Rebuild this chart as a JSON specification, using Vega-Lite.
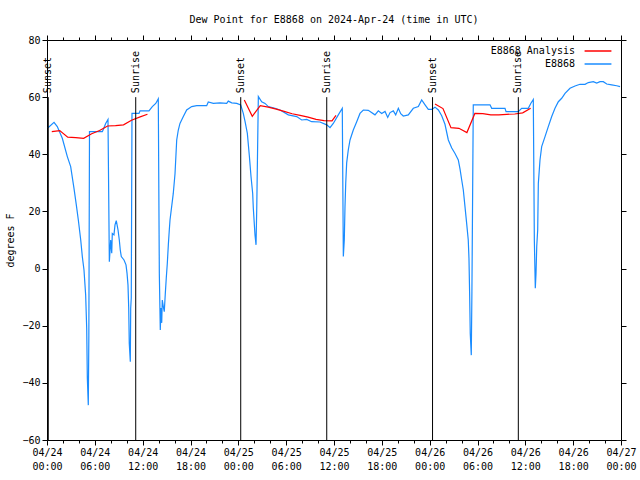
{
  "$schema": "https://vega.github.io/schema/vega-lite/v6.json",
  "width": 574,
  "height": 400,
  "autosize": {"type": "none"},
  "padding": {"left": 47, "top": 40, "right": 19, "bottom": 40},
  "background": "white",
  "title": {"text": "Dew Point for E8868 on 2024-Apr-24 (time in UTC)", "anchor": "middle", "frame": "group", "font": "DejaVu Sans Mono", "fontSize": 10, "fontWeight": "normal", "offset": 10, "color": "black"},
  "config": {
    "view": {"stroke": "black", "strokeWidth": 1},
    "font": "DejaVu Sans Mono",
    "axis": {"domain": false, "grid": false, "labelFont": "DejaVu Sans Mono", "labelFontSize": 10, "labelColor": "black", "titleFont": "DejaVu Sans Mono", "titleFontSize": 10, "titleFontWeight": "normal", "titleColor": "black", "tickColor": "black"}
  },
  "datasets": {
    "obs": [
      {"hour": 0.13, "dewpoint": 49.3, "series": "E8868"},
      {"hour": 0.88, "dewpoint": 51.2, "series": "E8868"},
      {"hour": 1.29, "dewpoint": 49.7, "series": "E8868"},
      {"hour": 1.92, "dewpoint": 45.6, "series": "E8868"},
      {"hour": 2.55, "dewpoint": 39.2, "series": "E8868"},
      {"hour": 2.97, "dewpoint": 35.7, "series": "E8868"},
      {"hour": 3.39, "dewpoint": 28.0, "series": "E8868"},
      {"hour": 3.68, "dewpoint": 22.2, "series": "E8868"},
      {"hour": 3.93, "dewpoint": 17.0, "series": "E8868"},
      {"hour": 4.23, "dewpoint": 10.0, "series": "E8868"},
      {"hour": 4.43, "dewpoint": 4.2, "series": "E8868"},
      {"hour": 4.64, "dewpoint": -0.5, "series": "E8868"},
      {"hour": 4.85, "dewpoint": -9.3, "series": "E8868"},
      {"hour": 4.98, "dewpoint": -20.9, "series": "E8868"},
      {"hour": 5.06, "dewpoint": -38.4, "series": "E8868"},
      {"hour": 5.18, "dewpoint": -47.8, "series": "E8868"},
      {"hour": 5.25, "dewpoint": -23.3, "series": "E8868"},
      {"hour": 5.33, "dewpoint": 47.9, "series": "E8868"},
      {"hour": 6.15, "dewpoint": 47.9, "series": "E8868"},
      {"hour": 6.94, "dewpoint": 47.9, "series": "E8868"},
      {"hour": 7.06, "dewpoint": 48.7, "series": "E8868"},
      {"hour": 7.36, "dewpoint": 50.8, "series": "E8868"},
      {"hour": 7.65, "dewpoint": 52.2, "series": "E8868"},
      {"hour": 7.82, "dewpoint": 2.4, "series": "E8868"},
      {"hour": 7.99, "dewpoint": 10.0, "series": "E8868"},
      {"hour": 8.12, "dewpoint": 5.4, "series": "E8868"},
      {"hour": 8.19, "dewpoint": 12.3, "series": "E8868"},
      {"hour": 8.4, "dewpoint": 11.8, "series": "E8868"},
      {"hour": 8.53, "dewpoint": 15.3, "series": "E8868"},
      {"hour": 8.69, "dewpoint": 16.8, "series": "E8868"},
      {"hour": 8.91, "dewpoint": 13.5, "series": "E8868"},
      {"hour": 9.07, "dewpoint": 10.0, "series": "E8868"},
      {"hour": 9.19, "dewpoint": 6.5, "series": "E8868"},
      {"hour": 9.32, "dewpoint": 4.2, "series": "E8868"},
      {"hour": 9.66, "dewpoint": 3.0, "series": "E8868"},
      {"hour": 9.91, "dewpoint": 1.3, "series": "E8868"},
      {"hour": 10.04, "dewpoint": -1.7, "series": "E8868"},
      {"hour": 10.16, "dewpoint": -5.8, "series": "E8868"},
      {"hour": 10.25, "dewpoint": -13.9, "series": "E8868"},
      {"hour": 10.32, "dewpoint": -26.2, "series": "E8868"},
      {"hour": 10.45, "dewpoint": -32.6, "series": "E8868"},
      {"hour": 10.5, "dewpoint": -13.9, "series": "E8868"},
      {"hour": 10.57, "dewpoint": -10.3, "series": "E8868"},
      {"hour": 10.66, "dewpoint": 54.3, "series": "E8868"},
      {"hour": 11.54, "dewpoint": 54.3, "series": "E8868"},
      {"hour": 11.67, "dewpoint": 55.2, "series": "E8868"},
      {"hour": 12.79, "dewpoint": 55.2, "series": "E8868"},
      {"hour": 13.21, "dewpoint": 56.7, "series": "E8868"},
      {"hour": 13.64, "dewpoint": 57.8, "series": "E8868"},
      {"hour": 13.96, "dewpoint": 59.4, "series": "E8868"},
      {"hour": 14.09, "dewpoint": -1.7, "series": "E8868"},
      {"hour": 14.21, "dewpoint": -21.5, "series": "E8868"},
      {"hour": 14.3, "dewpoint": -13.8, "series": "E8868"},
      {"hour": 14.39, "dewpoint": -19.0, "series": "E8868"},
      {"hour": 14.46, "dewpoint": -11.0, "series": "E8868"},
      {"hour": 14.59, "dewpoint": -13.3, "series": "E8868"},
      {"hour": 14.71, "dewpoint": -15.1, "series": "E8868"},
      {"hour": 14.84, "dewpoint": -8.7, "series": "E8868"},
      {"hour": 14.96, "dewpoint": -3.4, "series": "E8868"},
      {"hour": 15.09, "dewpoint": 1.8, "series": "E8868"},
      {"hour": 15.22, "dewpoint": 8.3, "series": "E8868"},
      {"hour": 15.34, "dewpoint": 13.5, "series": "E8868"},
      {"hour": 15.43, "dewpoint": 17.0, "series": "E8868"},
      {"hour": 15.84, "dewpoint": 26.3, "series": "E8868"},
      {"hour": 16.06, "dewpoint": 33.3, "series": "E8868"},
      {"hour": 16.27, "dewpoint": 45.0, "series": "E8868"},
      {"hour": 16.47, "dewpoint": 48.5, "series": "E8868"},
      {"hour": 16.68, "dewpoint": 50.8, "series": "E8868"},
      {"hour": 17.1, "dewpoint": 53.2, "series": "E8868"},
      {"hour": 17.52, "dewpoint": 55.5, "series": "E8868"},
      {"hour": 18.15, "dewpoint": 56.7, "series": "E8868"},
      {"hour": 18.78, "dewpoint": 57.0, "series": "E8868"},
      {"hour": 20.03, "dewpoint": 57.0, "series": "E8868"},
      {"hour": 20.23, "dewpoint": 58.3, "series": "E8868"},
      {"hour": 20.86, "dewpoint": 57.8, "series": "E8868"},
      {"hour": 21.7, "dewpoint": 58.0, "series": "E8868"},
      {"hour": 22.54, "dewpoint": 57.8, "series": "E8868"},
      {"hour": 22.74, "dewpoint": 58.6, "series": "E8868"},
      {"hour": 23.17, "dewpoint": 58.0, "series": "E8868"},
      {"hour": 23.8, "dewpoint": 57.8, "series": "E8868"},
      {"hour": 24.3, "dewpoint": 57.3, "series": "E8868"},
      {"hour": 24.62, "dewpoint": 54.3, "series": "E8868"},
      {"hour": 24.84, "dewpoint": 51.5, "series": "E8868"},
      {"hour": 25.13, "dewpoint": 47.3, "series": "E8868"},
      {"hour": 25.38, "dewpoint": 39.5, "series": "E8868"},
      {"hour": 25.59, "dewpoint": 32.2, "series": "E8868"},
      {"hour": 25.8, "dewpoint": 26.3, "series": "E8868"},
      {"hour": 25.88, "dewpoint": 21.1, "series": "E8868"},
      {"hour": 26.09, "dewpoint": 11.8, "series": "E8868"},
      {"hour": 26.22, "dewpoint": 8.3, "series": "E8868"},
      {"hour": 26.31, "dewpoint": 21.1, "series": "E8868"},
      {"hour": 26.51, "dewpoint": 60.2, "series": "E8868"},
      {"hour": 26.93, "dewpoint": 58.4, "series": "E8868"},
      {"hour": 27.35, "dewpoint": 57.8, "series": "E8868"},
      {"hour": 27.76, "dewpoint": 56.7, "series": "E8868"},
      {"hour": 28.6, "dewpoint": 56.1, "series": "E8868"},
      {"hour": 29.23, "dewpoint": 55.5, "series": "E8868"},
      {"hour": 30.27, "dewpoint": 53.8, "series": "E8868"},
      {"hour": 31.32, "dewpoint": 53.2, "series": "E8868"},
      {"hour": 31.95, "dewpoint": 52.0, "series": "E8868"},
      {"hour": 32.58, "dewpoint": 52.2, "series": "E8868"},
      {"hour": 33.2, "dewpoint": 51.4, "series": "E8868"},
      {"hour": 34.24, "dewpoint": 51.3, "series": "E8868"},
      {"hour": 35.09, "dewpoint": 50.3, "series": "E8868"},
      {"hour": 35.5, "dewpoint": 49.3, "series": "E8868"},
      {"hour": 35.91, "dewpoint": 50.8, "series": "E8868"},
      {"hour": 36.54, "dewpoint": 53.8, "series": "E8868"},
      {"hour": 37.04, "dewpoint": 56.1, "series": "E8868"},
      {"hour": 37.17, "dewpoint": 4.2, "series": "E8868"},
      {"hour": 37.29, "dewpoint": 10.0, "series": "E8868"},
      {"hour": 37.38, "dewpoint": 21.7, "series": "E8868"},
      {"hour": 37.47, "dewpoint": 29.8, "series": "E8868"},
      {"hour": 37.59, "dewpoint": 37.0, "series": "E8868"},
      {"hour": 37.79, "dewpoint": 41.5, "series": "E8868"},
      {"hour": 38.01, "dewpoint": 45.0, "series": "E8868"},
      {"hour": 38.42, "dewpoint": 48.5, "series": "E8868"},
      {"hour": 38.85, "dewpoint": 51.4, "series": "E8868"},
      {"hour": 39.26, "dewpoint": 54.3, "series": "E8868"},
      {"hour": 39.68, "dewpoint": 55.5, "series": "E8868"},
      {"hour": 40.3, "dewpoint": 55.4, "series": "E8868"},
      {"hour": 41.14, "dewpoint": 53.8, "series": "E8868"},
      {"hour": 41.56, "dewpoint": 55.2, "series": "E8868"},
      {"hour": 41.98, "dewpoint": 54.3, "series": "E8868"},
      {"hour": 42.4, "dewpoint": 55.0, "series": "E8868"},
      {"hour": 42.74, "dewpoint": 52.9, "series": "E8868"},
      {"hour": 43.03, "dewpoint": 54.6, "series": "E8868"},
      {"hour": 43.44, "dewpoint": 55.2, "series": "E8868"},
      {"hour": 43.74, "dewpoint": 53.8, "series": "E8868"},
      {"hour": 44.07, "dewpoint": 56.1, "series": "E8868"},
      {"hour": 44.37, "dewpoint": 54.2, "series": "E8868"},
      {"hour": 44.69, "dewpoint": 53.4, "series": "E8868"},
      {"hour": 45.32, "dewpoint": 53.8, "series": "E8868"},
      {"hour": 45.95, "dewpoint": 56.1, "series": "E8868"},
      {"hour": 46.58, "dewpoint": 56.7, "series": "E8868"},
      {"hour": 47.0, "dewpoint": 59.0, "series": "E8868"},
      {"hour": 47.42, "dewpoint": 57.3, "series": "E8868"},
      {"hour": 47.83, "dewpoint": 55.7, "series": "E8868"},
      {"hour": 48.26, "dewpoint": 55.7, "series": "E8868"},
      {"hour": 48.67, "dewpoint": 56.5, "series": "E8868"},
      {"hour": 49.09, "dewpoint": 55.5, "series": "E8868"},
      {"hour": 49.51, "dewpoint": 53.5, "series": "E8868"},
      {"hour": 49.92, "dewpoint": 50.5, "series": "E8868"},
      {"hour": 50.34, "dewpoint": 45.0, "series": "E8868"},
      {"hour": 50.77, "dewpoint": 42.2, "series": "E8868"},
      {"hour": 51.18, "dewpoint": 40.3, "series": "E8868"},
      {"hour": 51.59, "dewpoint": 38.0, "series": "E8868"},
      {"hour": 51.81, "dewpoint": 34.8, "series": "E8868"},
      {"hour": 52.02, "dewpoint": 31.0, "series": "E8868"},
      {"hour": 52.22, "dewpoint": 27.5, "series": "E8868"},
      {"hour": 52.43, "dewpoint": 21.7, "series": "E8868"},
      {"hour": 52.64, "dewpoint": 15.8, "series": "E8868"},
      {"hour": 52.84, "dewpoint": 10.0, "series": "E8868"},
      {"hour": 52.93, "dewpoint": 3.6, "series": "E8868"},
      {"hour": 53.01, "dewpoint": -8.1, "series": "E8868"},
      {"hour": 53.09, "dewpoint": -22.7, "series": "E8868"},
      {"hour": 53.22, "dewpoint": -30.3, "series": "E8868"},
      {"hour": 53.3, "dewpoint": -8.1, "series": "E8868"},
      {"hour": 53.47, "dewpoint": 57.3, "series": "E8868"},
      {"hour": 55.57, "dewpoint": 57.3, "series": "E8868"},
      {"hour": 55.78, "dewpoint": 56.1, "series": "E8868"},
      {"hour": 57.45, "dewpoint": 56.1, "series": "E8868"},
      {"hour": 57.58, "dewpoint": 54.9, "series": "E8868"},
      {"hour": 59.12, "dewpoint": 54.9, "series": "E8868"},
      {"hour": 59.54, "dewpoint": 56.1, "series": "E8868"},
      {"hour": 60.37, "dewpoint": 56.1, "series": "E8868"},
      {"hour": 60.68, "dewpoint": 57.8, "series": "E8868"},
      {"hour": 61.0, "dewpoint": 59.2, "series": "E8868"},
      {"hour": 61.13, "dewpoint": 10.0, "series": "E8868"},
      {"hour": 61.25, "dewpoint": -6.9, "series": "E8868"},
      {"hour": 61.34, "dewpoint": -1.7, "series": "E8868"},
      {"hour": 61.43, "dewpoint": 7.7, "series": "E8868"},
      {"hour": 61.55, "dewpoint": 13.5, "series": "E8868"},
      {"hour": 61.63, "dewpoint": 29.8, "series": "E8868"},
      {"hour": 61.84, "dewpoint": 38.0, "series": "E8868"},
      {"hour": 62.05, "dewpoint": 42.7, "series": "E8868"},
      {"hour": 62.47, "dewpoint": 46.2, "series": "E8868"},
      {"hour": 62.88, "dewpoint": 49.7, "series": "E8868"},
      {"hour": 63.31, "dewpoint": 53.2, "series": "E8868"},
      {"hour": 63.72, "dewpoint": 56.1, "series": "E8868"},
      {"hour": 64.14, "dewpoint": 58.4, "series": "E8868"},
      {"hour": 64.56, "dewpoint": 59.6, "series": "E8868"},
      {"hour": 64.98, "dewpoint": 61.3, "series": "E8868"},
      {"hour": 65.6, "dewpoint": 63.1, "series": "E8868"},
      {"hour": 66.23, "dewpoint": 63.9, "series": "E8868"},
      {"hour": 66.86, "dewpoint": 64.5, "series": "E8868"},
      {"hour": 67.49, "dewpoint": 64.5, "series": "E8868"},
      {"hour": 67.9, "dewpoint": 65.1, "series": "E8868"},
      {"hour": 68.53, "dewpoint": 65.4, "series": "E8868"},
      {"hour": 68.95, "dewpoint": 64.9, "series": "E8868"},
      {"hour": 69.37, "dewpoint": 65.4, "series": "E8868"},
      {"hour": 69.78, "dewpoint": 65.4, "series": "E8868"},
      {"hour": 70.21, "dewpoint": 64.6, "series": "E8868"},
      {"hour": 70.83, "dewpoint": 64.3, "series": "E8868"},
      {"hour": 71.46, "dewpoint": 64.0, "series": "E8868"},
      {"hour": 71.88, "dewpoint": 63.7, "series": "E8868"}
    ],
    "analysis": [
      {"hour": 0.6, "dewpoint": 47.9, "seg": 1, "series": "E8868 Analysis"},
      {"hour": 1.6, "dewpoint": 48.3, "seg": 1, "series": "E8868 Analysis"},
      {"hour": 2.6, "dewpoint": 46.0, "seg": 1, "series": "E8868 Analysis"},
      {"hour": 3.6, "dewpoint": 45.8, "seg": 1, "series": "E8868 Analysis"},
      {"hour": 4.6, "dewpoint": 45.6, "seg": 1, "series": "E8868 Analysis"},
      {"hour": 5.6, "dewpoint": 47.2, "seg": 1, "series": "E8868 Analysis"},
      {"hour": 6.6, "dewpoint": 48.3, "seg": 1, "series": "E8868 Analysis"},
      {"hour": 7.6, "dewpoint": 49.9, "seg": 1, "series": "E8868 Analysis"},
      {"hour": 8.6, "dewpoint": 50.0, "seg": 1, "series": "E8868 Analysis"},
      {"hour": 9.6, "dewpoint": 50.3, "seg": 1, "series": "E8868 Analysis"},
      {"hour": 10.6, "dewpoint": 51.9, "seg": 1, "series": "E8868 Analysis"},
      {"hour": 11.6, "dewpoint": 53.0, "seg": 1, "series": "E8868 Analysis"},
      {"hour": 12.6, "dewpoint": 54.0, "seg": 1, "series": "E8868 Analysis"},
      {"hour": 24.75, "dewpoint": 59.0, "seg": 2, "series": "E8868 Analysis"},
      {"hour": 25.75, "dewpoint": 53.3, "seg": 2, "series": "E8868 Analysis"},
      {"hour": 26.75, "dewpoint": 57.0, "seg": 2, "series": "E8868 Analysis"},
      {"hour": 27.75, "dewpoint": 56.5, "seg": 2, "series": "E8868 Analysis"},
      {"hour": 28.75, "dewpoint": 55.8, "seg": 2, "series": "E8868 Analysis"},
      {"hour": 29.75, "dewpoint": 55.0, "seg": 2, "series": "E8868 Analysis"},
      {"hour": 30.75, "dewpoint": 54.2, "seg": 2, "series": "E8868 Analysis"},
      {"hour": 31.75, "dewpoint": 53.6, "seg": 2, "series": "E8868 Analysis"},
      {"hour": 32.75, "dewpoint": 53.0, "seg": 2, "series": "E8868 Analysis"},
      {"hour": 33.75, "dewpoint": 52.2, "seg": 2, "series": "E8868 Analysis"},
      {"hour": 34.75, "dewpoint": 51.8, "seg": 2, "series": "E8868 Analysis"},
      {"hour": 35.75, "dewpoint": 51.7, "seg": 2, "series": "E8868 Analysis"},
      {"hour": 36.25, "dewpoint": 53.6, "seg": 2, "series": "E8868 Analysis"},
      {"hour": 48.67, "dewpoint": 57.6, "seg": 3, "series": "E8868 Analysis"},
      {"hour": 49.67, "dewpoint": 56.0, "seg": 3, "series": "E8868 Analysis"},
      {"hour": 50.67, "dewpoint": 49.3, "seg": 3, "series": "E8868 Analysis"},
      {"hour": 51.67, "dewpoint": 49.1, "seg": 3, "series": "E8868 Analysis"},
      {"hour": 52.67, "dewpoint": 47.6, "seg": 3, "series": "E8868 Analysis"},
      {"hour": 53.67, "dewpoint": 54.3, "seg": 3, "series": "E8868 Analysis"},
      {"hour": 54.67, "dewpoint": 54.2, "seg": 3, "series": "E8868 Analysis"},
      {"hour": 55.67, "dewpoint": 53.8, "seg": 3, "series": "E8868 Analysis"},
      {"hour": 56.67, "dewpoint": 53.8, "seg": 3, "series": "E8868 Analysis"},
      {"hour": 57.67, "dewpoint": 54.0, "seg": 3, "series": "E8868 Analysis"},
      {"hour": 58.67, "dewpoint": 54.1, "seg": 3, "series": "E8868 Analysis"},
      {"hour": 59.67, "dewpoint": 54.5, "seg": 3, "series": "E8868 Analysis"},
      {"hour": 60.67, "dewpoint": 56.1, "seg": 3, "series": "E8868 Analysis"}
    ],
    "sun": [
      {"hour": 0.16, "event": "Sunset"},
      {"hour": 11.13, "event": "Sunrise"},
      {"hour": 24.3, "event": "Sunset"},
      {"hour": 35.09, "event": "Sunrise"},
      {"hour": 48.36, "event": "Sunset"},
      {"hour": 59.12, "event": "Sunrise"}
    ]
  },
  "layer": [
    {
      "data": {"name": "obs"},
      "mark": {"type": "line", "strokeWidth": 1.2},
      "encoding": {
        "x": {"field": "hour", "type": "quantitative", "scale": {"domain": [0, 72], "nice": false, "zero": false},
          "axis": {"orient": "bottom", "title": null, "values": [0,2,4,6,8,10,12,14,16,18,20,22,24,26,28,30,32,34,36,38,40,42,44,46,48,50,52,54,56,58,60,62,64,66,68,70,72],
            "tickSize": {"condition": {"test": "datum.value % 6 === 0", "value": 5}, "value": 3},
            "labelExpr": "datum.value % 6 === 0 ? ['04/' + (24 + floor(datum.value / 24)), (datum.value % 24 < 10 ? '0' : '') + (datum.value % 24) + ':00'] : ''",
            "labelBaseline": "top", "labelLineHeight": 14, "labelPadding": 2, "labelOverlap": false, "labelFlush": false, "labelBound": false}},
        "y": {"field": "dewpoint", "type": "quantitative", "scale": {"domain": [-60, 80], "nice": false, "zero": false},
          "axis": {"orient": "left", "title": "degrees F", "tickSize": 5, "values": [-60,-40,-20,0,20,40,60,80], "labelPadding": 2,
            "titleX": -37, "titleY": 200, "titleAngle": 270, "titleAlign": "center", "titleBaseline": "middle"}},
        "color": {"field": "series", "type": "nominal", "scale": {"domain": ["E8868 Analysis", "E8868"], "range": ["#ff0000", "#1a8cff"]},
          "legend": {"orient": "none", "legendX": 546, "legendY": 6, "title": null, "symbolType": "M-6,0H6", "symbolSize": 20, "symbolStrokeWidth": 1.5, "labelAlign": "right", "labelOffset": -28, "labelFont": "DejaVu Sans Mono", "labelFontSize": 10, "labelColor": "black", "rowPadding": 3}}
      }
    },
    {
      "data": {"name": "analysis"},
      "mark": {"type": "line", "strokeWidth": 1.2},
      "encoding": {
        "x": {"field": "hour", "type": "quantitative",
          "axis": {"orient": "top", "title": null, "labels": false, "values": [0,2,4,6,8,10,12,14,16,18,20,22,24,26,28,30,32,34,36,38,40,42,44,46,48,50,52,54,56,58,60,62,64,66,68,70,72],
            "tickSize": {"condition": {"test": "datum.value % 6 === 0", "value": 5}, "value": 3}}},
        "y": {"field": "dewpoint", "type": "quantitative",
          "axis": {"orient": "right", "title": null, "labels": false, "tickSize": 5, "values": [-60,-40,-20,0,20,40,60,80]}},
        "detail": {"field": "seg", "type": "nominal"},
        "color": {"field": "series", "type": "nominal", "scale": {"domain": ["E8868 Analysis", "E8868"], "range": ["#ff0000", "#1a8cff"]},
          "legend": {"orient": "none", "legendX": 546, "legendY": 6, "title": null, "symbolType": "M-6,0H6", "symbolSize": 20, "symbolStrokeWidth": 1.5, "labelAlign": "right", "labelOffset": -28, "labelFont": "DejaVu Sans Mono", "labelFontSize": 10, "labelColor": "black", "rowPadding": 3}}
      }
    },
    {
      "data": {"name": "sun"},
      "mark": {"type": "rule", "color": "black", "strokeWidth": 1},
      "encoding": {
        "x": {"field": "hour", "type": "quantitative", "axis": null},
        "y": {"datum": -60, "type": "quantitative", "axis": null},
        "y2": {"datum": 60}
      }
    },
    {
      "data": {"name": "sun"},
      "mark": {"type": "text", "angle": 270, "align": "left", "baseline": "middle", "dx": 4, "font": "DejaVu Sans Mono", "fontSize": 10, "color": "black"},
      "encoding": {
        "x": {"field": "hour", "type": "quantitative", "axis": null},
        "y": {"datum": 60, "type": "quantitative", "axis": null},
        "text": {"field": "event"}
      }
    }
  ],
  "resolve": {"axis": {"x": "independent", "y": "independent"}}
}
